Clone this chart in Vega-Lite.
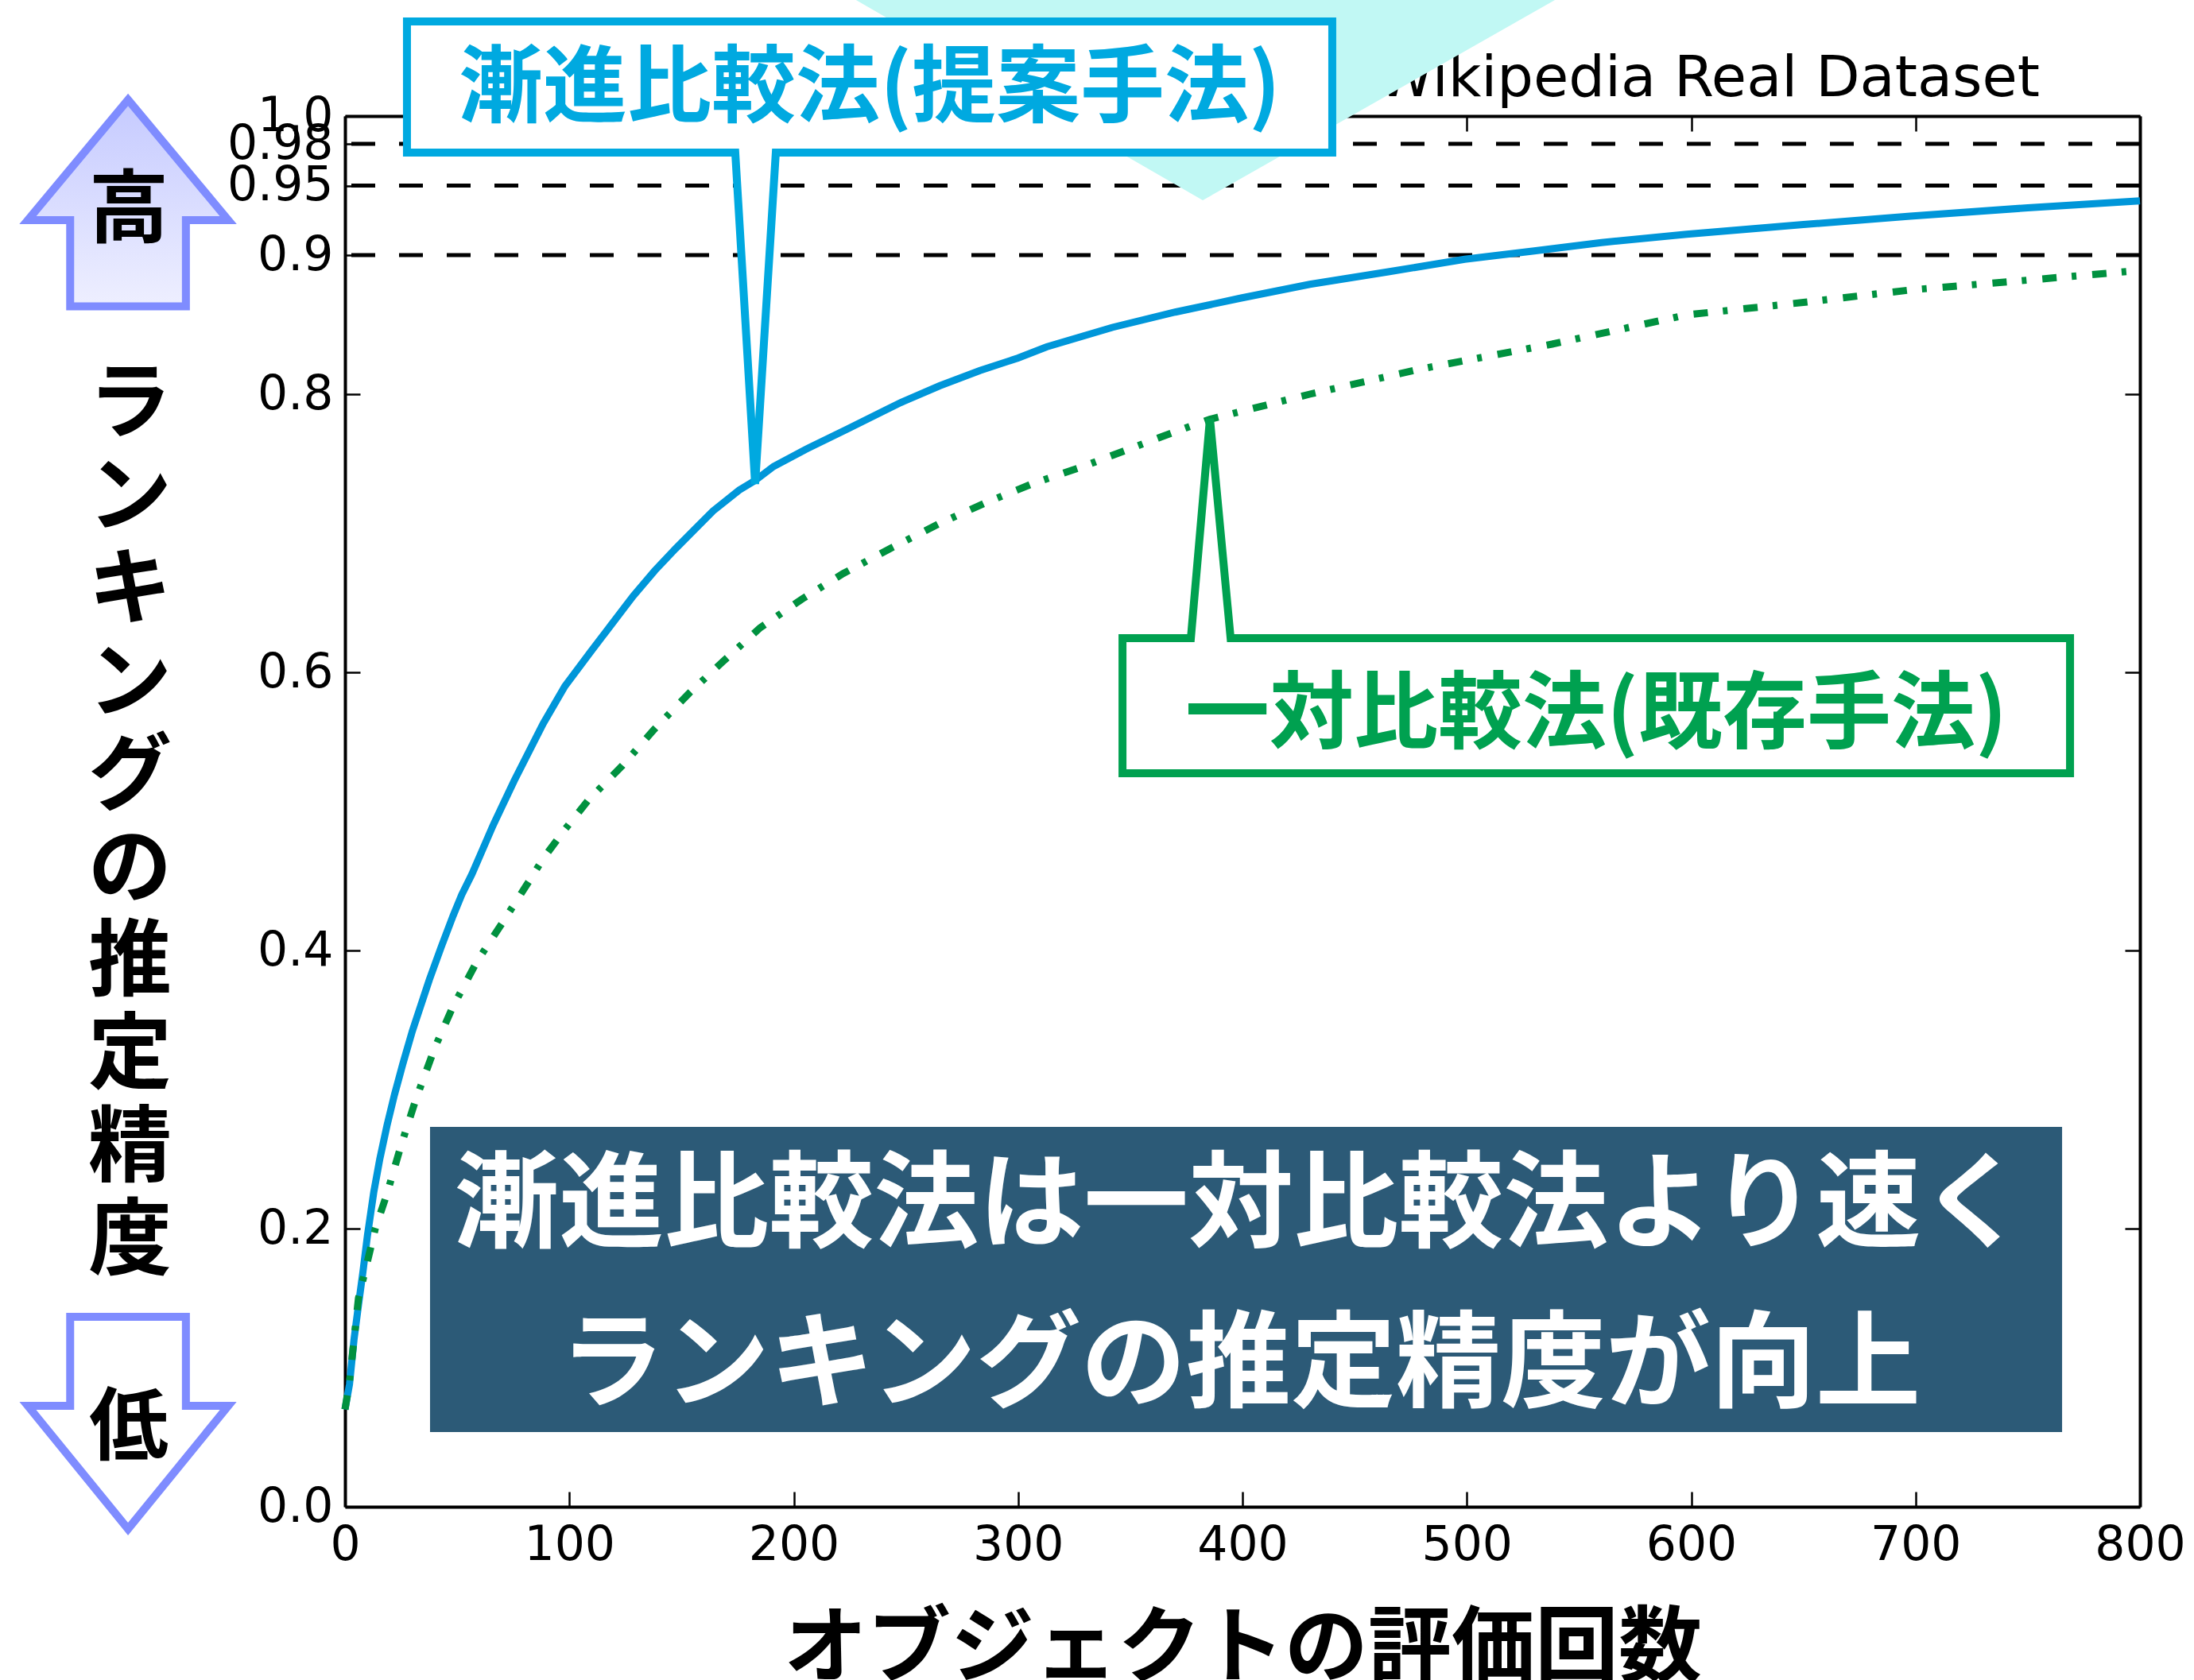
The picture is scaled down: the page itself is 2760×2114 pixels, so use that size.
{
  "$schema": "https://vega.github.io/schema/vega-lite/v6.json",
  "width": 2258,
  "height": 1750,
  "autosize": {"type": "none"},
  "padding": {"left": 434, "top": 146, "right": 68, "bottom": 218},
  "background": "white",
  "config": {
    "view": {"stroke": null},
    "axis": {
      "domainColor": "black", "domainWidth": 4, "tickColor": "black", "tickWidth": 2.5, "tickSize": -19,
      "labelFont": "DejaVu Sans", "labelFontSize": 60, "labelColor": "black", "grid": false,
      "labelFlush": false, "labelOverlap": false
    }
  },
  "datasets": {
    "levels": [{"level": 0.9}, {"level": 0.95}, {"level": 0.98}],
    "curves": [
      {"method": "漸進比較法", "n": 0, "accuracy": 0.07},
      {"method": "漸進比較法", "n": 2, "accuracy": 0.088},
      {"method": "漸進比較法", "n": 4, "accuracy": 0.12},
      {"method": "漸進比較法", "n": 6, "accuracy": 0.145},
      {"method": "漸進比較法", "n": 8, "accuracy": 0.169},
      {"method": "漸進比較法", "n": 10, "accuracy": 0.195},
      {"method": "漸進比較法", "n": 12.8, "accuracy": 0.226},
      {"method": "漸進比較法", "n": 15.5, "accuracy": 0.25},
      {"method": "漸進比較法", "n": 18.7, "accuracy": 0.274},
      {"method": "漸進比較法", "n": 22, "accuracy": 0.296},
      {"method": "漸進比較法", "n": 25.7, "accuracy": 0.318},
      {"method": "漸進比較法", "n": 30, "accuracy": 0.342},
      {"method": "漸進比較法", "n": 37.6, "accuracy": 0.379},
      {"method": "漸進比較法", "n": 43, "accuracy": 0.403},
      {"method": "漸進比較法", "n": 48.2, "accuracy": 0.425},
      {"method": "漸進比較法", "n": 52, "accuracy": 0.44},
      {"method": "漸進比較法", "n": 56.6, "accuracy": 0.455},
      {"method": "漸進比較法", "n": 66, "accuracy": 0.49},
      {"method": "漸進比較法", "n": 75.4, "accuracy": 0.522},
      {"method": "漸進比較法", "n": 88.3, "accuracy": 0.563},
      {"method": "漸進比較法", "n": 98, "accuracy": 0.59},
      {"method": "漸進比較法", "n": 109.6, "accuracy": 0.615},
      {"method": "漸進比較法", "n": 120, "accuracy": 0.637},
      {"method": "漸進比較法", "n": 128.5, "accuracy": 0.655},
      {"method": "漸進比較法", "n": 138, "accuracy": 0.673},
      {"method": "漸進比較法", "n": 147.4, "accuracy": 0.689},
      {"method": "漸進比較法", "n": 156, "accuracy": 0.703},
      {"method": "漸進比較法", "n": 164, "accuracy": 0.716},
      {"method": "漸進比較法", "n": 175.7, "accuracy": 0.731},
      {"method": "漸進比較法", "n": 182.8, "accuracy": 0.738},
      {"method": "漸進比較法", "n": 191, "accuracy": 0.748},
      {"method": "漸進比較法", "n": 205, "accuracy": 0.76},
      {"method": "漸進比較法", "n": 224, "accuracy": 0.775},
      {"method": "漸進比較法", "n": 247.7, "accuracy": 0.794},
      {"method": "漸進比較法", "n": 265, "accuracy": 0.806},
      {"method": "漸進比較法", "n": 283, "accuracy": 0.817},
      {"method": "漸進比較法", "n": 300, "accuracy": 0.826},
      {"method": "漸進比較法", "n": 312.7, "accuracy": 0.834},
      {"method": "漸進比較法", "n": 342, "accuracy": 0.848},
      {"method": "漸進比較法", "n": 370, "accuracy": 0.859},
      {"method": "漸進比較法", "n": 399, "accuracy": 0.869},
      {"method": "漸進比較法", "n": 430, "accuracy": 0.879},
      {"method": "漸進比較法", "n": 465, "accuracy": 0.888},
      {"method": "漸進比較法", "n": 499, "accuracy": 0.897},
      {"method": "漸進比較法", "n": 530, "accuracy": 0.903},
      {"method": "漸進比較法", "n": 560, "accuracy": 0.909},
      {"method": "漸進比較法", "n": 598, "accuracy": 0.915},
      {"method": "漸進比較法", "n": 650, "accuracy": 0.922},
      {"method": "漸進比較法", "n": 697.6, "accuracy": 0.928},
      {"method": "漸進比較法", "n": 750, "accuracy": 0.934},
      {"method": "漸進比較法", "n": 800, "accuracy": 0.939},
      {"method": "一対比較法", "n": 0, "accuracy": 0.07},
      {"method": "一対比較法", "n": 2, "accuracy": 0.09},
      {"method": "一対比較法", "n": 4, "accuracy": 0.12},
      {"method": "一対比較法", "n": 6, "accuracy": 0.15},
      {"method": "一対比較法", "n": 9.2, "accuracy": 0.171},
      {"method": "一対比較法", "n": 13.5, "accuracy": 0.2},
      {"method": "一対比較法", "n": 18.7, "accuracy": 0.225},
      {"method": "一対比較法", "n": 25, "accuracy": 0.26},
      {"method": "一対比較法", "n": 31.6, "accuracy": 0.293},
      {"method": "一対比較法", "n": 40, "accuracy": 0.33},
      {"method": "一対比較法", "n": 48.2, "accuracy": 0.36},
      {"method": "一対比較法", "n": 58.8, "accuracy": 0.392},
      {"method": "一対比較法", "n": 70.6, "accuracy": 0.421},
      {"method": "一対比較法", "n": 82.5, "accuracy": 0.451},
      {"method": "一対比較法", "n": 88.3, "accuracy": 0.466},
      {"method": "一対比較法", "n": 98, "accuracy": 0.487},
      {"method": "一対比較法", "n": 108.4, "accuracy": 0.508},
      {"method": "一対比較法", "n": 123.7, "accuracy": 0.533},
      {"method": "一対比較法", "n": 137.8, "accuracy": 0.559},
      {"method": "一対比較法", "n": 153.4, "accuracy": 0.585},
      {"method": "一対比較法", "n": 168.6, "accuracy": 0.608},
      {"method": "一対比較法", "n": 185, "accuracy": 0.632},
      {"method": "一対比較法", "n": 204, "accuracy": 0.653},
      {"method": "一対比較法", "n": 222, "accuracy": 0.671},
      {"method": "一対比較法", "n": 243, "accuracy": 0.689},
      {"method": "一対比較法", "n": 265, "accuracy": 0.707},
      {"method": "一対比較法", "n": 285.6, "accuracy": 0.722},
      {"method": "一対比較法", "n": 307, "accuracy": 0.736},
      {"method": "一対比較法", "n": 329, "accuracy": 0.748},
      {"method": "一対比較法", "n": 342, "accuracy": 0.756},
      {"method": "一対比較法", "n": 365, "accuracy": 0.77},
      {"method": "一対比較法", "n": 385.5, "accuracy": 0.782},
      {"method": "一対比較法", "n": 430, "accuracy": 0.8},
      {"method": "一対比較法", "n": 479, "accuracy": 0.818},
      {"method": "一対比較法", "n": 538, "accuracy": 0.836},
      {"method": "一対比較法", "n": 598, "accuracy": 0.857},
      {"method": "一対比較法", "n": 650, "accuracy": 0.866},
      {"method": "一対比較法", "n": 698, "accuracy": 0.875},
      {"method": "一対比較法", "n": 750, "accuracy": 0.882},
      {"method": "一対比較法", "n": 800, "accuracy": 0.889}
    ]
  },
  "layer": [
    {
      "data": {"name": "levels"},
      "mark": {"type": "rule", "color": "black", "strokeWidth": 5, "strokeDash": [30, 30]},
      "encoding": {
        "y": {"field": "level", "type": "quantitative", "scale": {"domain": [0, 1]}, "axis": null}
      }
    },
    {
      "data": {"name": "curves"},
      "transform": [{"filter": "datum.method == '漸進比較法'"}],
      "mark": {"type": "line", "color": "#0096D9", "strokeWidth": 9},
      "encoding": {
        "x": {
          "field": "n", "type": "quantitative", "scale": {"domain": [0, 800], "nice": false},
          "axis": {
            "orient": "bottom", "values": [0, 100, 200, 300, 400, 500, 600, 700, 800], "format": "d",
            "labelPadding": 38,
            "title": "オブジェクトの評価回数", "titleFont": "Noto Sans CJK JP", "titleFontWeight": "bold",
            "titleFontSize": 105, "titleColor": "black", "titleBaseline": "top", "titleY": 128
          }
        },
        "y": {
          "field": "accuracy", "type": "quantitative", "scale": {"domain": [0, 1], "nice": false},
          "axis": {
            "orient": "left", "values": [0, 0.2, 0.4, 0.6, 0.8, 0.9, 0.95, 0.98, 1.0],
            "labelExpr": "datum.value == 0.95 || datum.value == 0.98 ? format(datum.value, '.2f') : format(datum.value, '.1f')",
            "labelPadding": 34,
            "title": ["ラ", "ン", "キ", "ン", "グ", "の", "推", "定", "精", "度"],
            "titleAngle": 0, "titleAlign": "center", "titleBaseline": "top", "titleX": -271, "titleY": 312,
            "titleFont": "Noto Sans CJK JP", "titleFontWeight": "bold", "titleFontSize": 105,
            "titleLineHeight": 117, "titleColor": "black"
          }
        }
      }
    },
    {
      "data": {"name": "curves"},
      "transform": [{"filter": "datum.method == '一対比較法'"}],
      "mark": {"type": "line", "color": "#00913F", "strokeWidth": 9, "strokeDash": [18, 19, 6, 20]},
      "encoding": {
        "x": {
          "field": "n", "type": "quantitative", "scale": {"domain": [0, 800], "nice": false},
          "axis": {"orient": "top", "values": [0, 100, 200, 300, 400, 500, 600, 700, 800], "labels": false, "title": null}
        },
        "y": {
          "field": "accuracy", "type": "quantitative", "scale": {"domain": [0, 1], "nice": false},
          "axis": {"orient": "right", "values": [0, 0.2, 0.4, 0.6, 0.8, 0.9, 0.95, 0.98, 1.0], "labels": false, "title": null}
        }
      }
    },
    {
      "data": {"values": [{}]},
      "mark": {"type": "rect", "color": "#2C5A77"},
      "encoding": {
        "x": {"datum": 37.9, "type": "quantitative", "axis": null},
        "x2": {"datum": 765.3},
        "y": {"datum": 0.2731, "type": "quantitative", "axis": null},
        "y2": {"datum": 0.0537}
      }
    },
    {
      "data": {"values": [{}]},
      "mark": {
        "type": "text", "text": ["漸進比較法は一対比較法より速く", "ランキングの推定精度が向上"],
        "font": "Noto Sans CJK JP", "fontWeight": "bold", "fontSize": 132, "lineHeight": 201,
        "color": "white", "align": "center", "baseline": "middle"
      },
      "encoding": {
        "x": {"datum": 398.9, "type": "quantitative", "axis": null},
        "y": {"datum": 0.2154, "type": "quantitative", "axis": null}
      }
    },
    {
      "data": {"values": [{}]},
      "mark": {
        "type": "text", "text": "Wikipedia Real Dataset", "font": "DejaVu Sans", "fontSize": 72,
        "color": "black", "align": "right", "baseline": "alphabetic"
      },
      "encoding": {
        "x": {"datum": 755.4, "type": "quantitative", "axis": null},
        "y": {"datum": 1.0143, "type": "quantitative", "axis": null}
      }
    },
    {
      "data": {"values": [{}]},
      "mark": {
        "type": "point", "shape": "M-4.5,-2.6 L4.57,-2.6 L0,0 Z", "size": 40000,
        "filled": true, "fill": "#C1F8F4", "strokeWidth": 0, "opacity": 1
      },
      "encoding": {
        "x": {"datum": 382.3, "type": "quantitative", "axis": null},
        "y": {"datum": 0.9394, "type": "quantitative", "axis": null}
      }
    },
    {
      "data": {"values": [{}]},
      "mark": {
        "type": "point", "shape": "M0,0 L-0.25,-4.17 L-4.38,-4.17 L-4.38,-5.82 L7.26,-5.82 L7.26,-4.17 L0.26,-4.17 Z",
        "size": 40000, "filled": true, "fill": "white", "stroke": "#00A9E0", "strokeWidth": 10,
        "strokeJoin": "miter", "opacity": 1
      },
      "encoding": {
        "x": {"datum": 182.8, "type": "quantitative", "axis": null},
        "y": {"datum": 0.7354, "type": "quantitative", "axis": null}
      }
    },
    {
      "data": {"values": [{}]},
      "mark": {
        "type": "text", "text": "漸進比較法(提案手法)", "font": "Noto Sans CJK JP", "fontWeight": "bold",
        "fontSize": 106, "color": "#00A9E0", "align": "center", "baseline": "middle", "dx": 144, "dy": -496
      },
      "encoding": {
        "x": {"datum": 182.8, "type": "quantitative", "axis": null},
        "y": {"datum": 0.7354, "type": "quantitative", "axis": null}
      }
    },
    {
      "data": {"values": [{}]},
      "mark": {
        "type": "point", "shape": "M0,0 L0.26,2.76 L10.82,2.76 L10.82,4.46 L-1.1,4.46 L-1.1,2.76 L-0.24,2.76 Z",
        "size": 40000, "filled": true, "fill": "white", "stroke": "#00A150", "strokeWidth": 10,
        "strokeJoin": "miter", "opacity": 1
      },
      "encoding": {
        "x": {"datum": 385.5, "type": "quantitative", "axis": null},
        "y": {"datum": 0.7823, "type": "quantitative", "axis": null}
      }
    },
    {
      "data": {"values": [{}]},
      "mark": {
        "type": "text", "text": "一対比較法(既存手法)", "font": "Noto Sans CJK JP", "fontWeight": "bold",
        "fontSize": 106, "color": "#00A150", "align": "center", "baseline": "middle", "dx": 486, "dy": 374
      },
      "encoding": {
        "x": {"datum": 385.5, "type": "quantitative", "axis": null},
        "y": {"datum": 0.7823, "type": "quantitative", "axis": null}
      }
    },
    {
      "data": {"values": [{}]},
      "mark": {
        "type": "point", "shape": "M0,-1 L0.97,0.165 L0.56,0.165 L0.56,1 L-0.56,1 L-0.56,0.165 L-0.97,0.165 Z",
        "size": 67600, "filled": true, "opacity": 1, "stroke": "#7F8CFF", "strokeWidth": 10, "strokeJoin": "miter",
        "fill": {"gradient": "linear", "x1": 0, "y1": 0, "x2": 0, "y2": 1,
          "stops": [{"offset": 0, "color": "#C5CAFF"}, {"offset": 1, "color": "#EEEFFF"}]}
      },
      "encoding": {
        "x": {"datum": -96.7, "type": "quantitative", "axis": null},
        "y": {"datum": 0.9374, "type": "quantitative", "axis": null}
      }
    },
    {
      "data": {"values": [{}]},
      "mark": {
        "type": "point", "shape": "M-0.56,-1.027 L0.56,-1.027 L0.56,-0.165 L0.97,-0.165 L0,1.027 L-0.97,-0.165 L-0.56,-0.165 Z",
        "size": 67600, "filled": true, "opacity": 1, "fill": "white", "stroke": "#7F8CFF", "strokeWidth": 10, "strokeJoin": "miter"
      },
      "encoding": {
        "x": {"datum": -96.7, "type": "quantitative", "axis": null},
        "y": {"datum": 0.0603, "type": "quantitative", "axis": null}
      }
    },
    {
      "data": {"values": [{}]},
      "mark": {
        "type": "text", "text": "高", "font": "Noto Sans CJK JP", "fontWeight": "bold", "fontSize": 100,
        "color": "black", "align": "center", "baseline": "middle"
      },
      "encoding": {
        "x": {"datum": -96.4, "type": "quantitative", "axis": null},
        "y": {"datum": 0.9309, "type": "quantitative", "axis": null}
      }
    },
    {
      "data": {"values": [{}]},
      "mark": {
        "type": "text", "text": "低", "font": "Noto Sans CJK JP", "fontWeight": "bold", "fontSize": 100,
        "color": "black", "align": "center", "baseline": "middle"
      },
      "encoding": {
        "x": {"datum": -96.4, "type": "quantitative", "axis": null},
        "y": {"datum": 0.0554, "type": "quantitative", "axis": null}
      }
    }
  ],
  "resolve": {"axis": {"x": "independent", "y": "independent"}}
}
